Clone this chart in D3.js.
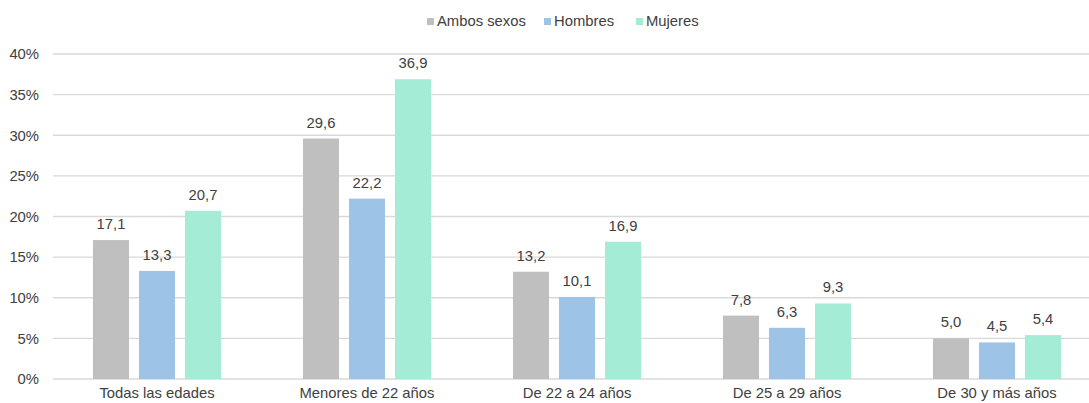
<!DOCTYPE html>
<html lang="es">
<head>
    <meta charset="UTF-8">
    <title>Tasa por edad y sexo</title>
    <script src="https://d3js.org/d3.v7.min.js"></script>
    <style>
body { margin: 0; background: #fff; }
svg text { font-family: "Liberation Sans", Arial, sans-serif; fill: #404040; font-size: 14.8px; }
</style>
</head>
<body>
    <div id="container"></div>
    <script>
// Data
const categories = ["Todas las edades", "Menores de 22 años", "De 22 a 24 años", "De 25 a 29 años", "De 30 y más años"];
const seriesNames = ["Ambos sexos", "Hombres", "Mujeres"];
const ambos = [17.1, 29.6, 13.2, 7.8, 5.0];
const hombres = [13.3, 22.2, 10.1, 6.3, 4.5];
const mujeres = [20.7, 36.9, 16.9, 9.3, 5.4];
const yTicks = [0, 5, 10, 15, 20, 25, 30, 35, 40];
const colors = ["#BFBFBF", "#9DC3E6", "#A5ECD7"];

const values = [ambos, hombres, mujeres];
const width = 1089, height = 403;

const svg = d3.select("#container").append("svg")
  .attr("width", width)
  .attr("height", height);

// scales
const x0 = d3.scaleBand().domain(categories).range([52, 1102]);
const x1 = d3.scaleBand().domain(seriesNames)
  .range([0, x0.bandwidth()])
  .paddingInner(0.217)
  .paddingOuter(0.89);
const y = d3.scaleLinear().domain([0, 40]).range([379, 54]);

// gridlines
svg.append("g")
  .selectAll("line")
  .data(yTicks)
  .join("line")
  .attr("x1", 53).attr("x2", width)
  .attr("y1", d => y(d)).attr("y2", d => y(d))
  .attr("stroke", "#D9D9D9")
  .attr("stroke-width", 1.3);

// y labels
svg.append("g")
  .selectAll("text")
  .data(yTicks)
  .join("text")
  .attr("x", 39)
  .attr("y", d => y(d))
  .attr("dy", "0.36em")
  .attr("text-anchor", "end")
  .text(d => d + "%");

// bars
const groups = svg.append("g")
  .selectAll("g")
  .data(categories)
  .join("g")
  .attr("transform", d => `translate(${x0(d)},0)`);

groups.selectAll("rect")
  .data((c, i) => seriesNames.map((s, j) => ({ s, j, v: values[j][i] })))
  .join("rect")
  .attr("x", d => x1(d.s))
  .attr("width", x1.bandwidth())
  .attr("y", d => y(d.v))
  .attr("height", d => y(0) - y(d.v))
  .attr("fill", d => colors[d.j]);

groups.selectAll("text.lbl")
  .data((c, i) => seriesNames.map((s, j) => ({ s, j, v: values[j][i] })))
  .join("text")
  .attr("class", "lbl")
  .attr("x", d => x1(d.s) + x1.bandwidth() / 2)
  .attr("y", d => y(d.v) - 11)
  .attr("text-anchor", "middle")
  .text(d => d.v.toFixed(1).replace(".", ","));

// category labels
svg.append("g")
  .selectAll("text")
  .data(categories)
  .join("text")
  .attr("x", d => x0(d) + x0.bandwidth() / 2)
  .attr("y", 398)
  .attr("text-anchor", "middle")
  .text(d => d);

// legend
const legendX = [427, 544, 636];
const legend = svg.append("g")
  .selectAll("g")
  .data(seriesNames)
  .join("g")
  .attr("transform", (d, i) => `translate(${legendX[i]},18)`);
legend.append("rect")
  .attr("width", 7).attr("height", 7)
  .attr("fill", (d, i) => colors[i]);
legend.append("text")
  .attr("x", 10)
  .attr("y", 7.5)
  .text(d => d);
</script>
</body>
</html>
